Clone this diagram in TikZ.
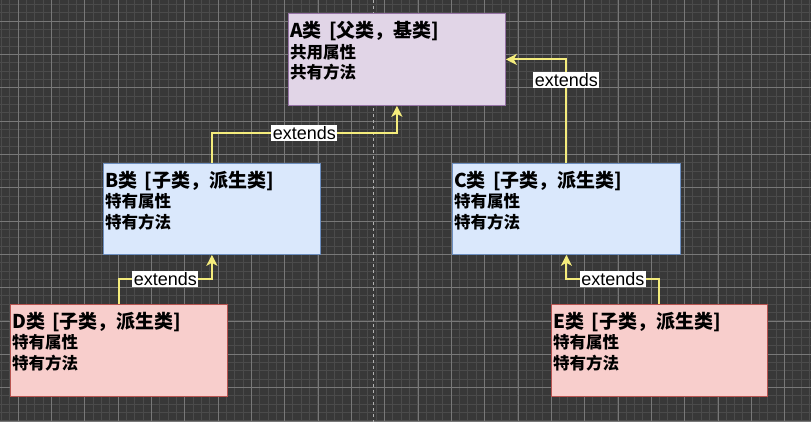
\documentclass[tikz,border=0pt]{standalone}
\usepackage{fontspec}
\newfontfamily\cjk{Noto Sans CJK SC}
\newfontfamily\lbl{Liberation Sans}
\usetikzlibrary{arrows.meta}

\definecolor{canvas}{HTML}{383838}
\definecolor{gridminor}{HTML}{4B4B4B}
\definecolor{gridmajor}{HTML}{787878}
\definecolor{guide}{HTML}{B0B0B0}
\definecolor{edge}{HTML}{F4EC7C}
\definecolor{baseFill}{HTML}{E1D5E7}
\definecolor{baseLine}{HTML}{9673A6}
\definecolor{midFill}{HTML}{DAE8FC}
\definecolor{midLine}{HTML}{6C8EBF}
\definecolor{leafFill}{HTML}{F8CECC}
\definecolor{leafLine}{HTML}{B85450}
\newcommand\clsTitle{\fontsize{19}{20}\selectfont}

\begin{document}
\begin{tikzpicture}[x=1pt, y=-1pt, >={Stealth[length=11pt, width=11pt, inset=3pt]}, minor/.style={gridminor, line width=0.8pt}, major/.style={gridmajor, line width=0.8pt}, cls/.style={draw, line width=0.8pt, anchor=north west, inner sep=0pt}, txt/.style={anchor=north west, align=left, inner sep=0pt, font=\cjk\bfseries\fontsize{16.5}{20.5}\selectfont}, ext/.style={->, edge, line width=2pt}, tag/.style={fill=white, text=black, inner sep=1.5pt, font=\lbl\fontsize{18}{18}\selectfont}]
\useasboundingbox (0,0) rectangle (811,422);
\fill[canvas] (0,0) rectangle (811,422);
% grid
\foreach \i in {0,...,97} \draw[minor] ({1.34+8.33*\i},0) -- ({1.34+8.33*\i},422);
\foreach \i in {0,...,50} \draw[minor] (0,{4.34+8.33*\i}) -- (811,{4.34+8.33*\i});
\foreach \i in {0,...,24} \draw[major] ({18+33.33*\i},0) -- ({18+33.33*\i},422);
\foreach \i in {0,...,12} \draw[major] (0,{21+33.33*\i}) -- (811,{21+33.33*\i});
\draw[guide, dashed, line width=0.8pt] (373,0) -- (373,422);
% classes
\node[cls, fill=baseFill, draw=baseLine, minimum width=217pt, minimum height=92pt] (A) at (288,13) {};
\node[txt] (A-t) at (290,21) {{\clsTitle A类\hspace{3pt} [父类，基类]}\\共用属性\\共有方法};
\node[cls, fill=midFill, draw=midLine, minimum width=217pt, minimum height=91pt] (B) at (103,163) {};
\node[txt] (B-t) at (105,171) {{\clsTitle B类\hspace{3pt} [子类，派生类]}\\特有属性\\特有方法};
\node[cls, fill=midFill, draw=midLine, minimum width=228pt, minimum height=91pt] (C) at (452,163) {};
\node[txt] (C-t) at (454,171) {{\clsTitle C类\hspace{3pt} [子类，派生类]}\\特有属性\\特有方法};
\node[cls, fill=leafFill, draw=leafLine, minimum width=217pt, minimum height=92pt] (D) at (10,304) {};
\node[txt] (D-t) at (12,312) {{\clsTitle D类\hspace{3pt} [子类，派生类]}\\特有属性\\特有方法};
\node[cls, fill=leafFill, draw=leafLine, minimum width=216pt, minimum height=92pt] (E) at (551,304) {};
\node[txt] (E-t) at (553,312) {{\clsTitle E类\hspace{3pt} [子类，派生类]}\\特有属性\\特有方法};
% inheritance
\draw[ext] (B.north) -- ++(0,-30) -| node[tag, pos=0.25] (B-A) {extends} (A.south);
\draw[ext] (C.north) |- node[tag, pos=0.4] (C-A) {extends} (A.east);
\draw[ext] (D.north) -- ++(0,-25) -| node[tag, pos=0.25] (D-B) {extends} (B.south);
\draw[ext] (E.north) -- ++(0,-25) -| node[tag, pos=0.25] (E-C) {extends} (C.south);
\end{tikzpicture}
\end{document}
